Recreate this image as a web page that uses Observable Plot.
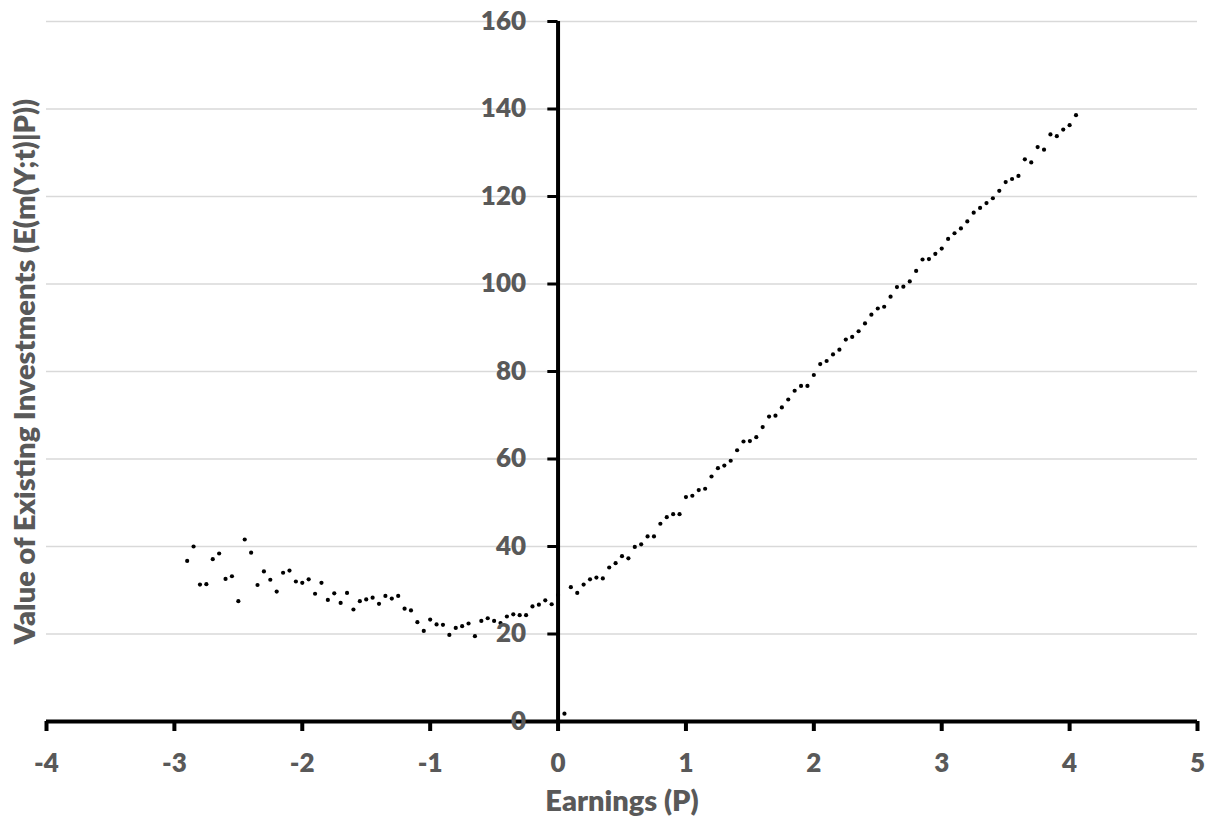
<!DOCTYPE html>
<html>
<head>
<meta charset="utf-8">
<script src="https://cdn.jsdelivr.net/npm/d3@7"></script>
<script src="https://cdn.jsdelivr.net/npm/@observablehq/plot@0.6"></script>
<style>
  html, body { margin: 0; padding: 0; background: #ffffff; }
  #chart { width: 1216px; height: 827px; }
</style>
</head>
<body>
<div id="chart"></div>
<script>
const earnings = [
  -2.9, -2.85, -2.8, -2.75, -2.7, -2.65, -2.6, -2.55, -2.5, -2.45,
  -2.4, -2.35, -2.3, -2.25, -2.2, -2.15, -2.1, -2.05, -2.0, -1.95,
  -1.9, -1.85, -1.8, -1.75, -1.7, -1.65, -1.6, -1.55, -1.5, -1.45,
  -1.4, -1.35, -1.3, -1.25, -1.2, -1.15, -1.1, -1.05, -1.0, -0.95,
  -0.9, -0.85, -0.8, -0.75, -0.7, -0.65, -0.6, -0.55, -0.5, -0.45,
  -0.4, -0.35, -0.3, -0.25, -0.2, -0.15, -0.1, -0.05, 0.0, 0.05,
  0.1, 0.15, 0.2, 0.25, 0.3, 0.35, 0.4, 0.45, 0.5, 0.55,
  0.6, 0.65, 0.7, 0.75, 0.8, 0.85, 0.9, 0.95, 1.0, 1.05,
  1.1, 1.15, 1.2, 1.25, 1.3, 1.35, 1.4, 1.45, 1.5, 1.55,
  1.6, 1.65, 1.7, 1.75, 1.8, 1.85, 1.9, 1.95, 2.0, 2.05,
  2.1, 2.15, 2.2, 2.25, 2.3, 2.35, 2.4, 2.45, 2.5, 2.55,
  2.6, 2.65, 2.7, 2.75, 2.8, 2.85, 2.9, 2.95, 3.0, 3.05,
  3.1, 3.15, 3.2, 3.25, 3.3, 3.35, 3.4, 3.45, 3.5, 3.55,
  3.6, 3.65, 3.7, 3.75, 3.8, 3.85, 3.9, 3.95, 4.0, 4.05
];
const values = [
  36.7, 40.0, 31.3, 31.4, 37.1, 38.4, 32.6, 33.2, 27.5, 41.6,
  38.6, 31.2, 34.3, 32.4, 29.7, 34.0, 34.5, 32.0, 31.7, 32.5,
  29.2, 31.7, 27.8, 29.3, 27.1, 29.4, 25.6, 27.5, 27.9, 28.3,
  26.9, 28.7, 28.1, 28.7, 25.8, 25.4, 22.7, 20.7, 23.3, 22.2,
  22.1, 19.8, 21.4, 21.8, 22.4, 19.5, 23.0, 23.6, 23.0, 22.5,
  24.0, 24.5, 24.3, 24.3, 26.3, 26.7, 27.7, 26.8, 28.9, 1.8,
  30.7, 29.4, 31.3, 32.5, 32.9, 32.7, 35.2, 36.2, 37.8, 37.3,
  39.9, 40.5, 42.3, 42.3, 45.2, 46.7, 47.4, 47.4, 51.3, 51.6,
  52.9, 53.2, 56.0, 57.9, 58.5, 59.6, 62.0, 64.0, 64.1, 65.0,
  67.3, 69.7, 69.9, 71.8, 73.6, 75.6, 76.7, 76.7, 79.2, 81.7,
  82.4, 83.9, 85.0, 87.3, 87.9, 89.2, 91.0, 93.0, 94.4, 94.8,
  97.1, 99.3, 99.4, 100.6, 103.0, 105.6, 105.7, 106.9, 108.1, 110.3,
  111.6, 112.7, 114.3, 116.3, 117.4, 118.5, 119.6, 121.3, 123.3, 124.0,
  124.7, 128.5, 127.8, 131.3, 130.7, 134.2, 133.8, 135.3, 136.3, 138.6
];
const xTicks = [-4, -3, -2, -1, 0, 1, 2, 3, 4, 5];
const yTicks = [0, 20, 40, 60, 80, 100, 120, 140, 160];
const xTitle = "Earnings (P)";
const yTitle = "Value of Existing Investments (E(m(Y;t)|P))";

const data = earnings.map((e, i) => ({x: e, y: values[i]}));

const textColor = "#595959";
const fs = 26;
const titleFs = 29;
const fw = 800;

const chart = Plot.plot({
  width: 1216,
  height: 827,
  marginLeft: 46,
  marginRight: 19,
  marginTop: 21,
  marginBottom: 106,
  x: {domain: [-4, 5], axis: null},
  y: {domain: [0, 160], axis: null},
  style: {
    fontFamily: "Lato, 'Open Sans', sans-serif",
    fontWeight: fw,
    color: textColor,
    background: "#ffffff",
    overflow: "visible"
  },
  marks: [
    Plot.ruleY(yTicks.filter(d => d > 0), {stroke: "#d9d9d9", strokeWidth: 1.5}),
    Plot.dot(data, {x: "x", y: "y", r: 2.1, fill: "black", stroke: "none"}),
    Plot.ruleY([0], {stroke: "black", strokeWidth: 4}),
    Plot.ruleX([0], {y1: 0, y2: 160, stroke: "black", strokeWidth: 4}),
    Plot.ruleY(yTicks, {x1: -0.08, x2: 0, stroke: "black", strokeWidth: 3}),
    Plot.axisX(xTicks, {
      anchor: "bottom",
      tickSize: 10,
      tickPadding: 22,
      stroke: "black",
      strokeWidth: 4,
      fill: textColor,
      fontSize: fs,
      fontWeight: fw,
      tickFormat: d => String(d),
      label: null
    }),
    Plot.text(yTicks, {
      x: () => 0, y: d => d, text: d => String(d),
      textAnchor: "end", dx: -32, fontSize: fs, fontWeight: fw, fill: textColor
    }),
    Plot.text([xTitle], {
      frameAnchor: "bottom", textAnchor: "middle", lineAnchor: "middle",
      dy: 80, fontSize: titleFs, fontWeight: fw, fill: textColor
    }),
    Plot.text([yTitle], {
      frameAnchor: "left", textAnchor: "middle", lineAnchor: "middle",
      rotate: -90, dx: -21, fontSize: titleFs, fontWeight: fw, fill: textColor
    })
  ]
});
document.getElementById("chart").appendChild(chart);
</script>
</body>
</html>
